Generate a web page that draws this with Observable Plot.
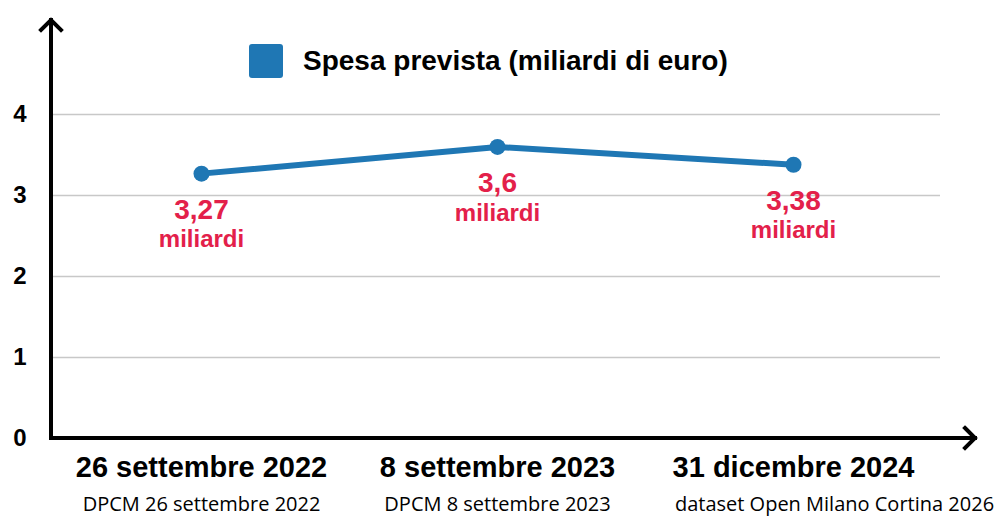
<!DOCTYPE html>
<html>
<head>
<meta charset="utf-8">
<script src="https://cdn.jsdelivr.net/npm/d3@7"></script>
<script src="https://cdn.jsdelivr.net/npm/@observablehq/plot@0.6"></script>
<style>
  html, body { margin: 0; padding: 0; background: #fff; }
  #wrap { position: relative; width: 997px; height: 516px; }
  #legend { position: absolute; left: 249px; top: 44px; display: flex; align-items: center;
    font-family: "Liberation Sans", Arial, sans-serif; font-weight: bold; font-size: 28px; color: #000; }
  #legend .sw { width: 34px; height: 34px; background: #1f77b4; border-radius: 3px; margin-right: 20px; }
</style>
</head>
<body>
<div id="wrap">
  <div id="legend"><div class="sw"></div><span>Spesa prevista (miliardi di euro)</span></div>
</div>
<script>
const categories = ["26 settembre 2022", "8 settembre 2023", "31 dicembre 2024"];
const values = [3.27, 3.6, 3.38];
const valueLabels = ["3,27", "3,6", "3,38"];
const unitLabel = "miliardi";
const sources = ["DPCM 26 settembre 2022", "DPCM 8 settembre 2023", "dataset Open Milano Cortina 2026"];
const yTicks = [0, 1, 2, 3, 4];

const data = categories.map((c, i) => ({cat: c, value: values[i], label: valueLabels[i], source: sources[i]}));
const red = "#e3204a";
const blue = "#1f77b4";
const font = "'Liberation Sans', Arial, sans-serif";

const chart = Plot.plot({
  width: 997,
  height: 516,
  marginLeft: 53,
  marginRight: 57,
  marginTop: 10,
  marginBottom: 78,
  style: {fontFamily: font, background: "transparent"},
  x: {type: "point", domain: categories, range: [201, 793], padding: 0},
  y: {domain: [0, 4], range: [438, 114]},
  marks: [
    Plot.gridY([1, 2, 3, 4], {stroke: "#c8c8c8", strokeOpacity: 1, strokeWidth: 1.5}),
    Plot.axisY(yTicks, {tickSize: 0, tickPadding: 27, tickFormat: d3.format("d"), fontSize: 24, fontWeight: "bold", fill: "#000", label: null}),
    Plot.axisX({tickSize: 0, tickPadding: 18, fontSize: 29, fontWeight: "bold", fill: "#000", label: null}),
    Plot.line(data, {x: "cat", y: "value", stroke: blue, strokeWidth: 6}),
    Plot.dot(data, {x: "cat", y: "value", r: 8, fill: blue}),
    Plot.text(data, {x: "cat", y: "value", text: "label", dy: 36, fill: red, fontSize: 28, fontWeight: "bold"}),
    Plot.text(data, {x: "cat", y: "value", text: () => unitLabel, dy: 66, fill: red, fontSize: 24, fontWeight: "bold"}),
    Plot.text(data.slice(0, 2), {x: "cat", text: "source", frameAnchor: "bottom", dy: 72, fill: "#000", fontSize: 20, fontFamily: "'Open Sans', sans-serif"}),
    Plot.text(data.slice(2), {x: "cat", text: "source", frameAnchor: "bottom", dy: 72, dx: 41, fill: "#000", fontSize: 20, fontFamily: "'Open Sans', sans-serif"})
  ]
});

// axis lines with arrows, positioned from the scales
const ys = chart.scale("y");
const y0 = ys.apply(0);
const xLeft = 51;
const svg = d3.select(chart);
const g = svg.append("g").attr("fill", "none").attr("stroke", "#000").attr("stroke-width", 4)
  .attr("stroke-linecap", "square").attr("stroke-linejoin", "miter");
g.append("path").attr("d", `M${xLeft},${y0} V20`);
g.append("path").attr("d", `M${xLeft - 10},30 L${xLeft},20 L${xLeft + 10},30`);
g.append("path").attr("d", `M${xLeft},${y0} H975`);
g.append("path").attr("d", `M965,${y0 - 10} L975,${y0} L965,${y0 + 10}`);

document.getElementById("wrap").prepend(chart);
chart.style.position = "absolute";
chart.style.left = "0";
chart.style.top = "0";
</script>
</body>
</html>
